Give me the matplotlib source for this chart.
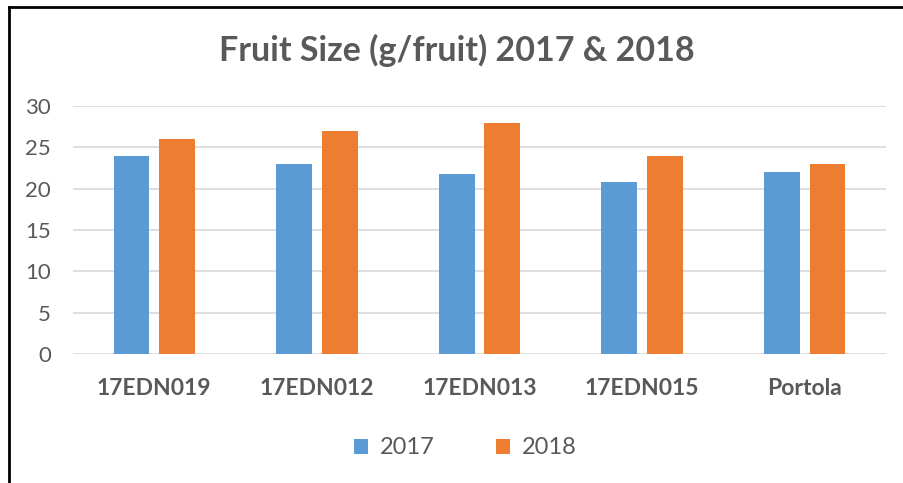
import numpy as np
import matplotlib.pyplot as plt
from matplotlib.lines import Line2D

categories = ['17EDN019', '17EDN012', '17EDN013', '17EDN015', 'Portola']
vals_2017 = [24, 23, 21.8, 20.8, 22]
vals_2018 = [26, 27, 28, 24, 23]
yticks = [0, 5, 10, 15, 20, 25, 30]

plt.rcParams['font.family'] = ['Lato', 'DejaVu Sans']
grey = '#595959'

fig = plt.figure(figsize=(9.04, 4.83), dpi=100)
ax = fig.add_axes([73 / 904, 1 - 354 / 483, (886 - 73) / 904, (354 - 106) / 483])

x = np.arange(len(categories))
w = 0.22
ax.bar(x - 0.14, vals_2017, w, color='#5b9bd5', label='2017', zorder=3)
ax.bar(x + 0.14, vals_2018, w, color='#ed7d31', label='2018', zorder=3)

ax.set_xlim(-0.5, len(categories) - 0.5)
ax.set_ylim(0, 30)
ax.set_yticks(yticks)
ax.set_xticks(x)
ax.set_xticklabels(categories, fontsize=16.5, fontweight='bold', color=grey)
ax.tick_params(axis='y', labelsize=16, labelcolor=grey, length=0, pad=16)
ax.tick_params(axis='x', length=0, pad=17)
ax.yaxis.grid(True, color='#d9d9d9', linewidth=1.2, zorder=0)
for s in ax.spines.values():
    s.set_visible(False)

fig.text(0.505, 1 - 50 / 483, 'Fruit Size (g/fruit) 2017 & 2018', ha='center', va='center',
         fontsize=24.5, fontweight='bold', color=grey)

fig.legend(loc='center', bbox_to_anchor=(0.515, 1 - 448 / 483), ncol=2, frameon=False,
           fontsize=17, labelcolor=grey, handlelength=0.6, handleheight=0.6,
           columnspacing=2.6, handletextpad=0.5)

# outer frame (left and top edges)
fig.add_artist(Line2D([9 / 904, 9 / 904], [0, 1 - 7 / 483], transform=fig.transFigure, color='black', lw=2))
fig.add_artist(Line2D([9 / 904, 1], [1 - 7 / 483, 1 - 7 / 483], transform=fig.transFigure, color='black', lw=2))

fig.savefig('out.png', dpi=100)
